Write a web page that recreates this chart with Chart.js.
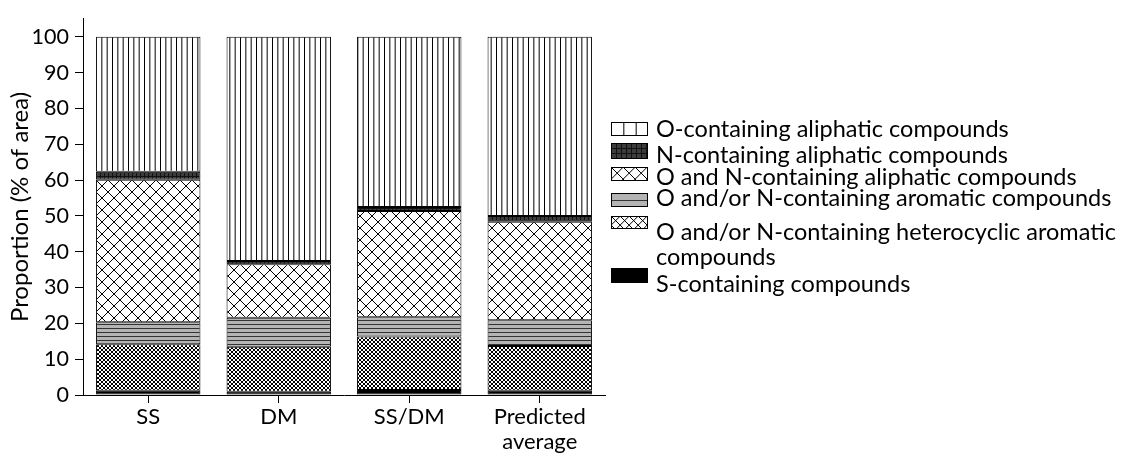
<!DOCTYPE html>
<html>
<head>
<meta charset="utf-8">
<script src="https://cdn.jsdelivr.net/npm/chart.js@4.4.1/dist/chart.umd.min.js"></script>
<style>
  html, body { margin: 0; padding: 0; background: #fff; }
  #wrap { width: 1126px; height: 457px; }
</style>
</head>
<body>
<div id="wrap"><canvas id="chart" width="1126" height="457"></canvas></div>
<script>
// ---- data (% of total peak area) ----
const categories     = ['SS', 'DM', 'SS/DM', ['Predicted', 'average']];
const sContaining    = [1.2, 0.9, 1.4, 1.2];
const heteroAromatic = [13.0, 12.6, 14.9, 12.5];
const aromatic       = [6.1, 8.1, 5.4, 7.2];
const onAliphatic    = [39.8, 14.9, 29.7, 27.5];
const nAliphatic     = [2.2, 0.9, 1.1, 1.6];
const oAliphatic     = [37.7, 62.6, 47.5, 50.0];
const yTicks         = [0, 10, 20, 30, 40, 50, 60, 70, 80, 90, 100];

const FAMILY = 'Lato';
const TICK_FONT   = { family: FAMILY, size: 21.5 };
const LABEL_FONT  = { family: FAMILY, size: 22, lineHeight: 1.15 };
const TITLE_FONT  = { family: FAMILY, size: 24 };
const LEGEND_SIZE = 23.5;

// ---- fill patterns ----
function tile(w, h, paint) {
  const c = document.createElement('canvas');
  c.width = w; c.height = h;
  const g = c.getContext('2d');
  paint(g, w, h);
  return g.createPattern(c, 'repeat');
}
const vLines = step => tile(Math.round(step * 3), 4, (g, w, h) => {
  g.fillStyle = '#fff'; g.fillRect(0, 0, w, h);
  g.fillStyle = '#000';
  for (let i = 0; i < 3; i++) g.fillRect(i * w / 3, 0, 1, h);
});
const grid = step => tile(step, step, (g, w, h) => {
  g.fillStyle = '#3c3c3c'; g.fillRect(0, 0, w, h);
  g.fillStyle = '#111';
  g.fillRect(0, 0, w, 1); g.fillRect(0, 0, 1, h);
});
const diamonds = step => tile(step, step, (g, w, h) => {
  g.fillStyle = '#fff'; g.fillRect(0, 0, w, h);
  g.strokeStyle = '#000'; g.lineWidth = 1;
  g.beginPath();
  g.moveTo(0, 0); g.lineTo(w, h);
  g.moveTo(w, 0); g.lineTo(0, h);
  g.stroke();
});
const hLines = step => tile(4, step, (g, w, h) => {
  g.fillStyle = '#b4b4b4'; g.fillRect(0, 0, w, h);
  g.fillStyle = '#333';
  g.fillRect(0, 0, w, 1);
});

const series = [
  { label: 'S-containing compounds', data: sContaining, fill: '#000', key: 'solid' },
  { label: 'O and/or N-containing heterocyclic aromatic compounds', data: heteroAromatic, fill: diamonds(4), key: 'het' },
  { label: 'O and/or N-containing aromatic compounds', data: aromatic, fill: hLines(4), key: 'aro' },
  { label: 'O and N-containing aliphatic compounds', data: onAliphatic, fill: diamonds(12), key: 'on' },
  { label: 'N-containing aliphatic compounds', data: nAliphatic, fill: grid(4), key: 'n' },
  { label: 'O-containing aliphatic compounds', data: oAliphatic, fill: vLines(16 / 3), key: 'o' }
];

// legend swatches use coarser versions of the same fills
const legendFills = {
  o: vLines(37 / 3), n: grid(5), on: diamonds(12.3), aro: hLines(7), het: diamonds(9.25), solid: '#000'
};
// rows top to bottom: box top, box height, text line centres
const legendRows = [
  { key: 'o',     box: [122, 14], lines: [['O-containing aliphatic compounds', 129]] },
  { key: 'n',     box: [143, 16], lines: [['N-containing aliphatic compounds', 155]] },
  { key: 'on',    box: [167, 14], lines: [['O and N-containing aliphatic compounds', 177]] },
  { key: 'aro',   box: [193, 14], lines: [['O and/or N-containing aromatic compounds', 198]] },
  { key: 'het',   box: [216, 13], lines: [['O and/or N-containing heterocyclic aromatic', 232], ['compounds', 257]] },
  { key: 'solid', box: [268, 15], lines: [['S-containing compounds', 284]] }
];

const sideLegend = {
  id: 'sideLegend',
  afterDraw(chart) {
    const ctx = chart.ctx;
    const bx = 611, bw = 37, tx = 656;
    ctx.save();
    ctx.font = `${LEGEND_SIZE}px ${FAMILY}`;
    ctx.textBaseline = 'middle';
    ctx.textAlign = 'left';
    legendRows.forEach(r => {
      const [top, h] = r.box;
      const f = legendFills[r.key];
      if (typeof f !== 'string' && f.setTransform) f.setTransform(new DOMMatrix().translate(bx, top));
      ctx.fillStyle = f;
      ctx.fillRect(bx, top, bw, h);
      ctx.strokeStyle = '#000';
      ctx.lineWidth = 1;
      ctx.strokeRect(bx + 0.5, top + 0.5, bw - 1, h - 1);
      ctx.fillStyle = '#000';
      r.lines.forEach(([t, y]) => ctx.fillText(t, tx, y));
    });
    ctx.restore();
  }
};

new Chart(document.getElementById('chart'), {
  type: 'bar',
  data: {
    labels: categories,
    datasets: series.map(s => ({
      label: s.label,
      data: s.data,
      backgroundColor: s.fill,
      borderColor: '#000',
      borderWidth: 1,
      borderSkipped: false,
      barPercentage: 0.8,
      categoryPercentage: 1.0
    }))
  },
  options: {
    responsive: false,
    animation: false,
    layout: { padding: { left: 0, right: 521, top: 14, bottom: 0 } },
    plugins: { legend: { display: false }, tooltip: { enabled: false } },
    scales: {
      x: {
        stacked: true,
        grid: { drawOnChartArea: false, offset: false, tickLength: 8, color: '#000' },
        border: { color: '#000', width: 1 },
        ticks: { color: '#000', font: LABEL_FONT, padding: 1, maxRotation: 0 },
        afterFit(s) { s.height = 62; }
      },
      y: {
        stacked: true,
        min: 0,
        max: 105,
        afterBuildTicks(s) { s.ticks = yTicks.map(v => ({ value: v })); },
        afterFit(s) { s.width = 83; },
        grid: { drawOnChartArea: false, tickLength: 8, color: '#000' },
        border: { color: '#000', width: 1 },
        ticks: { color: '#000', font: TICK_FONT, padding: 6 },
        title: {
          display: true,
          text: 'Proportion (% of area)',
          color: '#000',
          font: TITLE_FONT,
          padding: { top: 6, bottom: 0 }
        }
      }
    }
  },
  plugins: [sideLegend]
});
</script>
</body>
</html>
